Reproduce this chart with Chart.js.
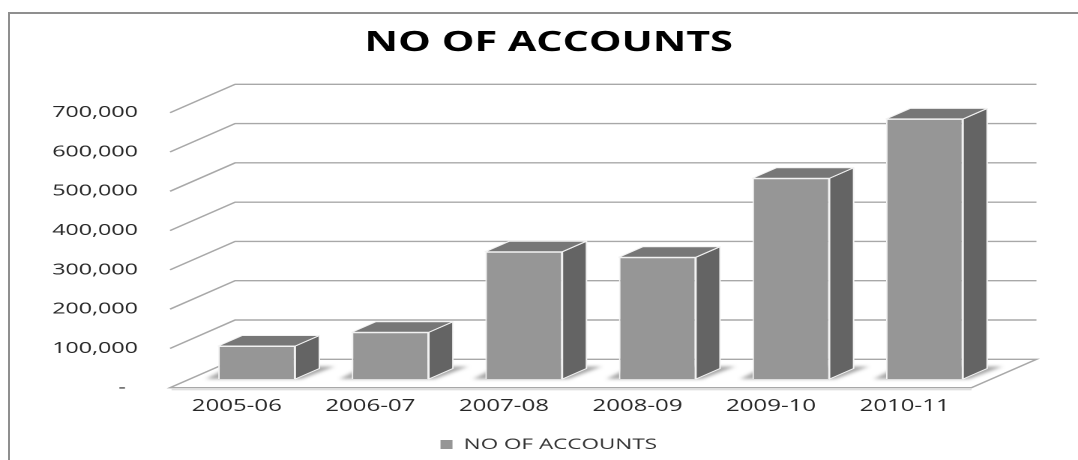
<!DOCTYPE html>
<html>
<head>
<meta charset="utf-8">
<title>NO OF ACCOUNTS</title>
<script src="https://cdn.jsdelivr.net/npm/chart.js@4/dist/chart.umd.min.js"></script>
<style>
  html, body { margin: 0; padding: 0; background: #fff; overflow: hidden; }
  .frame {
    position: absolute; left: 8px; top: 12px; width: 1200px; height: 600px;
    border: 2px solid #8f8f8f; box-sizing: border-box;
  }
  #chart { position: absolute; left: 0; top: 0; }
</style>
</head>
<body>
<div class="frame"></div>
<!-- drawn at 719px wide and stretched to 1078px, like the old spreadsheet export -->
<canvas id="chart" width="719" height="460" style="width:1078px;height:460px"></canvas>
<script>
'use strict'

const years = ['2005-06', '2006-07', '2007-08', '2008-09', '2009-10', '2010-11'];
const accounts = [84000, 119000, 324000, 310000, 511000, 662000];
const yMax = 700000;
const yStep = 100000;

const STRETCH = 1078 / 719;
// depth of the floor, front edge -> back wall
const DX = 65 / STRETCH, DY = -28.4;
// where the bar fronts sit inside that depth, and how deep the bars are
const BAR_AT = 0.306, BAR_DEEP = 0.37;

const FRONT = '#969696', SIDE = '#646464', TOP = '#777777', EDGE = '#f2f2f2';

Chart.defaults.font.family = "'Open Sans', sans-serif";

const box3d = {
  id: 'box3d',
  beforeDatasetsDraw(chart) {
    const { ctx, chartArea: a, scales: { y } } = chart;
    const fx = -BAR_AT * DX, fy = -BAR_AT * DY;
    const bx = (1 - BAR_AT) * DX, by = (1 - BAR_AT) * DY;
    const y0 = y.getPixelForValue(0);

    ctx.save();
    // walls: one bent line per tick
    ctx.strokeStyle = '#a8a8a8';
    ctx.lineWidth = 1.4;
    y.ticks.forEach(t => {
      if (t.value === 0) return;
      const py = y.getPixelForValue(t.value);
      ctx.beginPath();
      ctx.moveTo(a.left + fx, py + fy);
      ctx.lineTo(a.left + bx, py + by);
      ctx.lineTo(a.right + bx, py + by);
      ctx.stroke();
    });

    // floor
    ctx.beginPath();
    ctx.moveTo(a.left + fx, y0 + fy);
    ctx.lineTo(a.right + fx, y0 + fy);
    ctx.lineTo(a.right + bx, y0 + by);
    ctx.lineTo(a.left + bx, y0 + by);
    ctx.closePath();
    ctx.fillStyle = '#fff';
    ctx.fill();
    ctx.stroke();
    ctx.strokeStyle = '#d4d4d4';
    ctx.lineWidth = 1;
    ctx.beginPath();
    ctx.moveTo(a.left + fx + 1, y0 + fy + 2);
    ctx.lineTo(a.right + fx, y0 + fy + 2);
    ctx.stroke();

    // soft shadows round the bar feet
    const sx = BAR_DEEP * DX, sy = BAR_DEEP * DY;
    ctx.filter = 'blur(3px)';
    ctx.fillStyle = 'rgba(0,0,0,0.35)';
    chart.getDatasetMeta(0).data.forEach(bar => {
      const { x, base, width } = bar.getProps(['x', 'base', 'width'], true);
      const l = x - width / 2 - 8, r = x + width / 2 + 4;
      ctx.beginPath();
      ctx.moveTo(l, base);
      ctx.lineTo(r, base);
      ctx.lineTo(r + sx + 6, base + sy - 2);
      ctx.lineTo(l + sx, base + sy - 2);
      ctx.closePath();
      ctx.fill();
    });
    ctx.restore();
  },
  afterDatasetsDraw(chart) {
    const { ctx } = chart;
    const sx = BAR_DEEP * DX, sy = BAR_DEEP * DY;
    ctx.save();
    ctx.strokeStyle = EDGE;
    ctx.lineWidth = 1;
    ctx.lineJoin = 'round';
    chart.getDatasetMeta(0).data.forEach(bar => {
      const { x, y, base, width } = bar.getProps(['x', 'y', 'base', 'width'], true);
      const l = x - width / 2, r = x + width / 2;
      // right side
      ctx.beginPath();
      ctx.moveTo(r, y);
      ctx.lineTo(r + sx, y + sy);
      ctx.lineTo(r + sx, base + sy);
      ctx.lineTo(r, base);
      ctx.closePath();
      ctx.fillStyle = SIDE;
      ctx.fill();
      ctx.stroke();
      // lid
      ctx.beginPath();
      ctx.moveTo(l, y);
      ctx.lineTo(l + sx, y + sy);
      ctx.lineTo(r + sx, y + sy);
      ctx.lineTo(r, y);
      ctx.closePath();
      ctx.fillStyle = TOP;
      ctx.fill();
      ctx.stroke();
    });
    ctx.restore();
  }
};

const ctx = document.getElementById('chart');

new Chart(ctx, {
  type: 'bar',
  data: {
    labels: years,
    datasets: [{
      label: 'NO OF ACCOUNTS',
      data: accounts,
      backgroundColor: FRONT,
      borderColor: EDGE,
      borderWidth: 1,
      barPercentage: 0.577,
      categoryPercentage: 1
    }]
  },
  options: {
    responsive: false,
    devicePixelRatio: 2,
    animation: false,
    // legend box keeps 10px spare underneath, let part of it hang off the bottom
    layout: { padding: { left: 13, right: 0, top: 0, bottom: -2 } },
    scales: {
      x: {
        grid: { display: false, drawTicks: false },
        border: { display: false },
        ticks: { font: { size: 16 }, color: '#262626', padding: 18, labelOffset: -13.3 },
        afterFit: s => { s.height = 54; }
      },
      y: {
        min: 0,
        max: yMax,
        grid: { display: false, drawTicks: false },
        border: { display: false },
        ticks: {
          stepSize: yStep,
          font: { size: 15.5 },
          color: '#262626',
          padding: 34.7,
          labelOffset: 8.7,
          callback: v => v === 0 ? '-  ' : v.toLocaleString('en-US')
        },
        afterFit: s => { s.width = 113.7; }
      },
      // empty strip on the right so the chart area ends where the floor does
      gap: {
        type: 'linear',
        position: 'right',
        grid: { display: false, drawTicks: false },
        border: { display: false },
        ticks: { display: false },
        afterFit: s => { s.width = 57.8; }
      }
    },
    plugins: {
      title: {
        display: true,
        text: 'NO OF ACCOUNTS',
        color: '#000',
        font: { size: 27.5, weight: 'bold' },
        padding: { top: 26.8, bottom: 44.2 }
      },
      legend: {
        position: 'bottom',
        labels: {
          boxWidth: 8,
          boxHeight: 9,
          padding: 4,
          color: '#333',
          font: { size: 15 },
          generateLabels: c => Chart.defaults.plugins.legend.labels.generateLabels(c)
            .map(l => ({ ...l, lineWidth: 0 }))
        }
      },
      tooltip: { enabled: false }
    }
  },
  plugins: [box3d]
});
</script>
</body>
</html>
